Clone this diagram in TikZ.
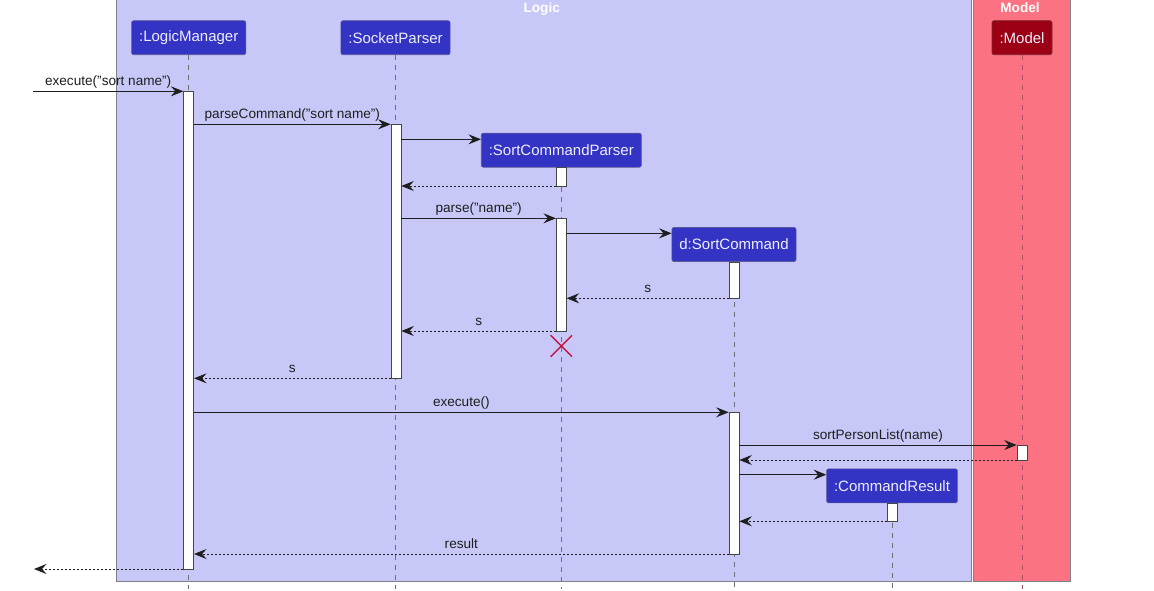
\documentclass[tikz,border=0pt]{standalone}
\usepackage{fontspec}
\setmainfont{Liberation Sans}
\usetikzlibrary{arrows.meta,shapes.misc}
\definecolor{logicbg}{RGB}{200,200,248}
\definecolor{modelbg}{RGB}{251,114,130}
\definecolor{partblue}{RGB}{51,51,196}
\definecolor{partred}{RGB}{155,0,20}
\definecolor{partbluedraw}{RGB}{90,90,150}
\definecolor{partreddraw}{RGB}{120,40,50}
\definecolor{parttext}{RGB}{238,238,255}
\definecolor{actdraw}{RGB}{70,70,70}
\definecolor{destroyred}{RGB}{196,20,70}
\definecolor{lifegray}{RGB}{112,112,122}
\definecolor{lifepink}{RGB}{170,85,105}
\definecolor{framegray}{RGB}{128,128,136}
\definecolor{ink}{RGB}{30,30,30}
\begin{document}
\begin{tikzpicture}[x=1pt,y=-1pt,
  part/.style={rectangle, rounded corners=2pt, fill=partblue, draw=partbluedraw, line width=0.6pt,
    text=parttext, font=\fontsize{15}{17}\selectfont, minimum height=34pt, inner xsep=7.5pt, inner ysep=0pt},
  partm/.style={part, fill=partred, draw=partreddraw},
  act/.style={rectangle, draw=actdraw, fill=white, line width=0.7pt, minimum width=10pt, inner sep=0pt},
  msg/.style={draw=ink, line width=0.8pt, -{Stealth[length=12.5pt,width=10pt,inset=4.5pt]}},
  ret/.style={msg, dash pattern=on 2pt off 2pt},
  lbl/.style={font=\fontsize{13.6}{16}\selectfont, anchor=base, inner sep=0pt, text=ink, yshift=5.5pt},
  lifeline/.style={draw=lifegray, dash pattern=on 5pt off 5pt, line width=0.8pt},
  grouptitle/.style={font=\bfseries\fontsize{13.6}{16}\selectfont, text=white, anchor=base, inner sep=0pt}
]
\useasboundingbox (0,0) rectangle (1154,590);
% group boxes
\draw[fill=logicbg, draw=framegray, line width=0.8pt] (116.3,-3) rectangle (971.7,581.7);
\draw[fill=modelbg, draw=framegray, line width=0.8pt] (973.3,-3) rectangle (1070.7,581.7);
\node[grouptitle] (tLogic) at (541.7,12.5) {Logic};
\node[grouptitle] (tModel) at (1020,12.5) {Model};
% lifeline ends
\coordinate (lmE) at (188.7,589);
\coordinate (spE) at (395.5,589);
\coordinate (mdE) at (1022,589);
\coordinate (scpE) at (561.3,589);
\coordinate (scE) at (734,589);
\coordinate (crE) at (892,589);
\coordinate (lmS) at (188.7,54.7);
\coordinate (spS) at (395.5,54.7);
\coordinate (mdS) at (1022,54.7);
\coordinate (scpS) at (561.3,167.2);
\coordinate (scS) at (734,261.5);
\coordinate (crS) at (892,502.8);
\draw[lifeline] (lmS) -- (lmE);
\draw[lifeline] (spS) -- (spE);
\draw[lifeline, draw=lifepink] (mdS) -- (mdE);
\draw[lifeline] (scpS) -- (scpE);
\draw[lifeline] (scS) -- (scE);
\draw[lifeline] (crS) -- (crE);
% participants
\node[part] (lm) at (188.7,37.7) {:LogicManager};
\node[part] (sp) at (395.5,37.7) {:SocketParser};
\node[partm] (md) at (1022,37.7) {:Model};
\node[part] (scp) at (561.3,150.2) {:SortCommandParser};
\node[part] (sc) at (734,244.5) {d:SortCommand};
\node[part] (cr) at (892,485.8) {:CommandResult};
% activations
\node[act, minimum height=477.7pt] (aLM) at (188.7,330.15) {};
\node[act, minimum height=254pt] (aSP) at (396,251.3) {};
\node[act, minimum height=18.3pt] (aSCP1) at (561.3,176.85) {};
\node[act, minimum height=112.7pt] (aSCP2) at (561.3,274.65) {};
\node[act, minimum height=36pt] (aSC1) at (734,280.3) {};
\node[act, minimum height=141.7pt] (aSC2) at (734,483.15) {};
\node[act, minimum height=15pt] (aM) at (1022,452.8) {};
\node[act, minimum height=18pt] (aCR) at (892,512.3) {};
% destroy
\node[cross out, draw=destroyred, line width=1.4pt, minimum width=20pt, minimum height=20pt, inner sep=0pt] (xSCP) at (561.3,346) {};
% external endpoints
\coordinate (inS) at (33,91.3);
\coordinate (outE) at (34,569);
% messages
\draw[msg] (inS) -- (aLM.west |- inS) node[lbl, pos=0.5] {execute("sort name")};
\draw[msg] (aLM.east |- 0,124.3) -- (aSP.west |- 0,124.3) node[lbl, pos=0.5] {parseCommand("sort name")};
\draw[msg] (aSP.east |- 0,139.3) -- (scp.west |- 0,139.3);
\draw[ret] (aSCP1.west |- 0,186) -- (aSP.east |- 0,186);
\draw[msg] (aSP.east |- 0,218.3) -- (aSCP2.west |- 0,218.3) node[lbl, pos=0.5] {parse("name")};
\draw[msg] (aSCP2.east |- 0,233.3) -- (sc.west |- 0,233.3);
\draw[ret] (aSC1.west |- 0,298.3) -- (aSCP2.east |- 0,298.3) node[lbl, pos=0.5] {s};
\draw[ret] (aSCP2.west |- 0,331) -- (aSP.east |- 0,331) node[lbl, pos=0.5] {s};
\draw[ret] (aSP.west |- 0,378.3) -- (aLM.east |- 0,378.3) node[lbl, pos=0.5] {s};
\draw[msg] (aLM.east |- 0,412.3) -- (aSC2.west |- 0,412.3) node[lbl, pos=0.5] {execute()};
\draw[msg] (aSC2.east |- 0,445) -- (aM.west |- 0,445) node[lbl, pos=0.5] {sortPersonList(name)};
\draw[ret] (aM.west |- 0,460) -- (aSC2.east |- 0,460);
\draw[msg] (aSC2.east |- 0,474.7) -- (cr.west |- 0,474.7);
\draw[ret] (aCR.west |- 0,521.3) -- (aSC2.east |- 0,521.3);
\draw[ret] (aSC2.west |- 0,554) -- (aLM.east |- 0,554) node[lbl, pos=0.5] {result};
\draw[ret] (aLM.west |- outE) -- (outE);
\end{tikzpicture}
\end{document}
